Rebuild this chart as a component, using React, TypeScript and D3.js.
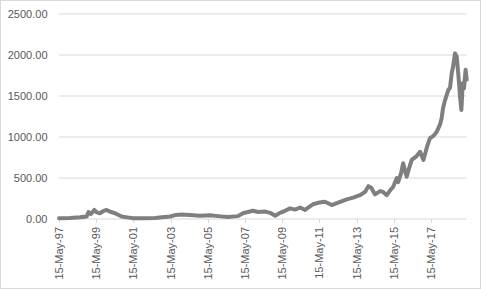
import React from "react";
import * as d3 from "d3";

const dates: string[] = [
  "1997-05-15","1997-12-15","1998-07-01","1998-11-10","1998-12-15","1999-02-01","1999-04-08","1999-05-30",
  "1999-07-26","1999-09-27","1999-12-05","2000-02-10","2000-05-18","2000-09-27","2001-01-12","2001-05-08",
  "2002-01-01","2002-07-13","2002-11-28","2003-05-05","2003-08-30","2003-12-20","2004-05-30","2004-12-12",
  "2005-06-28","2005-12-01","2006-06-17","2006-12-27","2007-04-05","2007-07-12","2007-10-19","2008-01-26",
  "2008-06-13","2008-09-20","2008-12-27","2009-04-01","2009-07-08","2009-10-15","2010-01-22","2010-05-01",
  "2010-08-07","2011-01-08","2011-05-08","2011-09-02","2012-01-12","2012-05-15","2012-11-02","2013-03-08",
  "2013-07-19","2013-10-27","2014-01-01","2014-02-25","2014-05-12","2014-08-19","2014-10-16","2014-12-27",
  "2015-03-03","2015-05-01","2015-07-13","2015-08-08","2015-10-05","2015-11-14","2016-01-22","2016-03-10",
  "2016-05-01","2016-07-24","2016-10-12","2016-12-16","2017-02-25","2017-04-23","2017-06-25","2017-09-05",
  "2017-11-06","2017-12-09","2018-01-05","2018-02-14","2018-04-20","2018-05-23","2018-06-25","2018-07-20",
  "2018-08-29","2018-10-01","2018-10-30","2018-11-21","2018-12-05","2019-01-01","2019-01-26","2019-02-21",
  "2019-03-25","2019-04-15"
];

const values: number[] = [
  10, 12, 20, 30, 85, 60, 110, 80,
  70, 95, 110, 90, 70, 30, 20, 10,
  10, 12, 20, 30, 50, 55, 50, 40,
  45, 35, 25, 35, 70, 85, 100, 85,
  90, 75, 40, 75, 100, 130, 115, 140,
  110, 180, 200, 210, 170, 200, 240, 260,
  290, 330, 400, 380, 300, 340, 330, 290,
  350, 390, 500, 450, 560, 680, 515, 620,
  720, 760, 820, 720, 880, 985, 1010, 1065,
  1150, 1230, 1350, 1450, 1575, 1600, 1780, 1850,
  2020, 1980, 1780, 1620, 1490, 1330, 1655, 1595,
  1820, 1700
];

const yTicks: number[] = [0, 500, 1000, 1500, 2000, 2500];
const xTickDates: string[] = [
  "1997-05-15","1999-05-15","2001-05-15","2003-05-15","2005-05-15",
  "2007-05-15","2009-05-15","2011-05-15","2013-05-15","2015-05-15","2017-05-15"
];

const W = 481;
const H = 289;
const parse = d3.timeParse("%Y-%m-%d");
const fmtX = d3.timeFormat("%d-%b-%y");
const fmtY = d3.format(".2f");

export default function App() {
  const data = dates.map((d, i) => ({ date: parse(d) as Date, value: values[i] }));
  const x = d3
    .scaleTime()
    .domain([parse("1997-05-15") as Date, parse("2019-04-15") as Date])
    .range([59, 466.7]);
  const y = d3.scaleLinear().domain([0, 2500]).range([219, 14]);
  const line = d3
    .line<{ date: Date; value: number }>()
    .x((d) => x(d.date))
    .y((d) => y(d.value))
    .curve(d3.curveLinear);
  const font = "'Liberation Sans', Arial, sans-serif";
  return (
    <svg
      width={W}
      height={H}
      style={{ position: "absolute", left: 0, top: 0, background: "#fff" }}
      fontFamily={font}
    >
      <rect x={0.5} y={0.5} width={W - 1} height={H - 1} fill="#fff" stroke="#d9d9d9" />
      {yTicks.map((t) => (
        <g key={t}>
          {t > 0 && (
            <line x1={59} x2={466.7} y1={y(t)} y2={y(t)} stroke="#d9d9d9" strokeWidth={1} />
          )}
          <text x={47.5} y={y(t)} dy="0.35em" textAnchor="end" fontSize={11} fill="#595959">
            {fmtY(t)}
          </text>
        </g>
      ))}
      <line x1={59} x2={466.7} y1={219} y2={219} stroke="#d9d9d9" strokeWidth={1} />
      {xTickDates.map((s) => {
        const d = parse(s) as Date;
        const xx = Math.round(x(d)) + 0.5;
        return (
          <g key={s}>
            <line x1={xx} x2={xx} y1={219} y2={223} stroke="#d9d9d9" />
            <text
              transform={`translate(${xx},227) rotate(-90)`}
              dy="0.35em"
              textAnchor="end"
              fontSize={11}
              fill="#595959"
            >
              {fmtX(d)}
            </text>
          </g>
        );
      })}
      <path
        d={line(data) || ""}
        fill="none"
        stroke="#7f7f7f"
        strokeWidth={4}
        strokeLinejoin="round"
        strokeLinecap="round"
      />
    </svg>
  );
}
